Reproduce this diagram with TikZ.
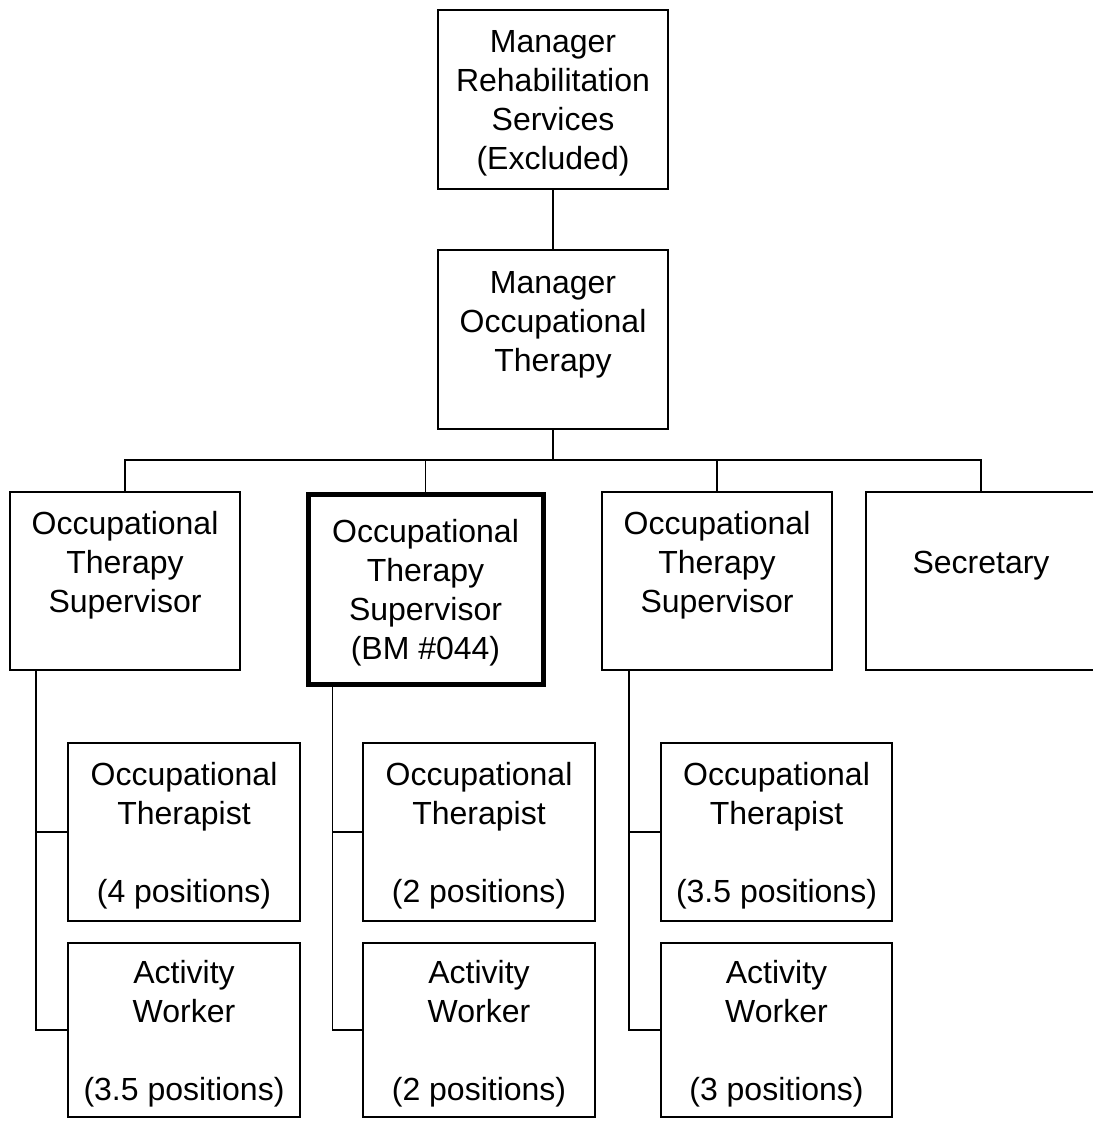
\documentclass[tikz,border=0pt]{standalone}
\usepackage{fontspec}
\setmainfont{Liberation Sans}

\tikzset{
    box/.style={draw, line width=1.6pt, inner sep=0pt, align=center,
        minimum width=230pt, minimum height=178pt,
        text height=141pt, text depth=0pt,
        font=\fontsize{32}{39}\selectfont},
    lead/.style={box, line width=5pt, minimum width=235pt, minimum height=190pt},
    link/.style={line width=1.6pt}
}

\begin{document}
\begin{tikzpicture}[x=1pt,y=-1pt]
    \useasboundingbox (0,0) rectangle (1092,1123);
    \node[box, minimum height=179pt] (MRS) at (553,99.5) {Manager\\Rehabilitation\\Services\\(Excluded)};
    \node[box, minimum height=179pt] (MOT) at (553,339.5) {Manager\\Occupational\\Therapy\\~};
    \node[box] (S1) at (125,581) {Occupational\\Therapy\\Supervisor\\~};
    \node[lead] (S2) at (425.5,589) {Occupational\\Therapy\\Supervisor\\(BM \#044)};
    \node[box] (S3) at (717,581) {Occupational\\Therapy\\Supervisor\\~};
    \node[box] (SEC) at (981,581) {~\\Secretary\\~\\~};
    \node[box, minimum width=232pt] (OT1) at (184,832) {Occupational\\Therapist\\~\\(4 positions)};
    \node[box, minimum width=232pt] (OT2) at (479,832) {Occupational\\Therapist\\~\\(2 positions)};
    \node[box, minimum width=231pt] (OT3) at (776.5,832) {Occupational\\Therapist\\~\\(3.5 positions)};
    \node[box, minimum width=232pt, minimum height=174pt] (AW1) at (184,1030) {Activity\\Worker\\~\\(3.5 positions)};
    \node[box, minimum width=232pt, minimum height=174pt] (AW2) at (479,1030) {Activity\\Worker\\~\\(2 positions)};
    \node[box, minimum width=231pt, minimum height=174pt] (AW3) at (776.5,1030) {Activity\\Worker\\~\\(3 positions)};
    \coordinate (BUS) at (553,460);
    \coordinate (SP1) at ([xshift=27pt]S1.south west);
    \coordinate (SP2) at ([xshift=27pt]S2.south west);
    \coordinate (SP3) at ([xshift=28pt]S3.south west);
    \draw[link] (MRS) -- (MOT);
    \draw[link] (MOT) -- (BUS);
    \draw[link] (S1.north) |- (BUS);
    \draw[link] (S2.north) |- (BUS);
    \draw[link] (S3.north) |- (BUS);
    \draw[link] (SEC.north) |- (BUS);
    \draw[link] (SP1) |- (OT1.west);
    \draw[link] (SP1) |- (AW1.west);
    \draw[link] (SP2) |- (OT2.west);
    \draw[link] (SP2) |- (AW2.west);
    \draw[link] (SP3) |- (OT3.west);
    \draw[link] (SP3) |- (AW3.west);
\end{tikzpicture}
\end{document}
